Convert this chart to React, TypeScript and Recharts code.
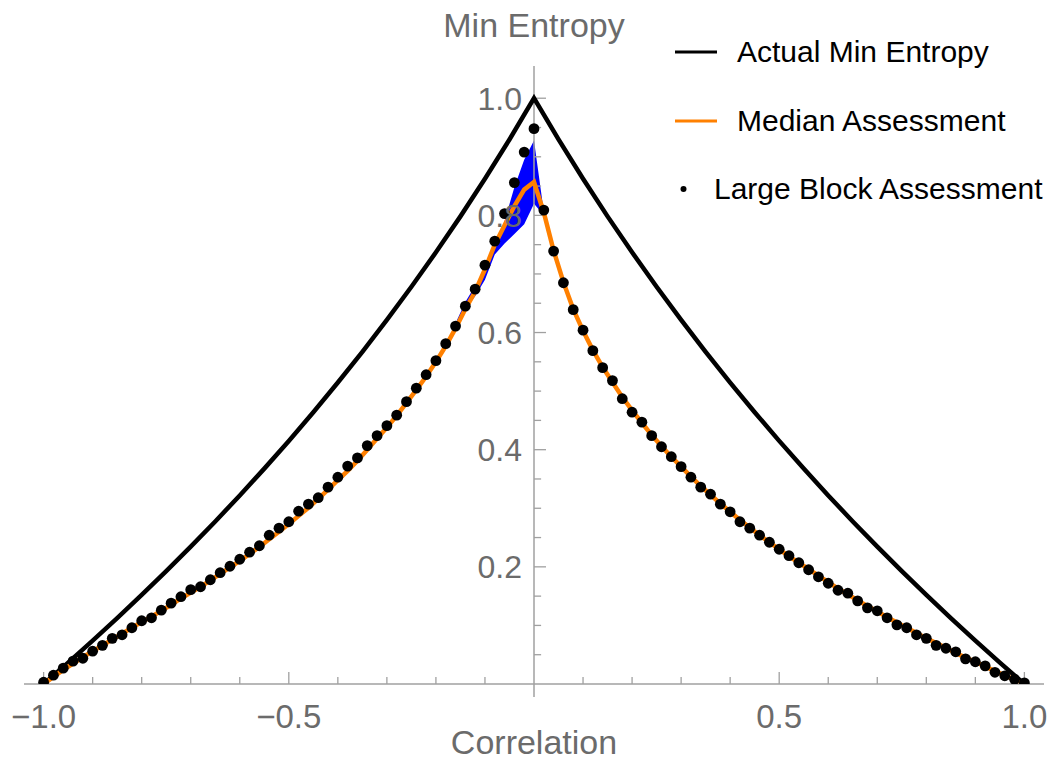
import React from 'react';
import {
  ComposedChart,
  Line,
  Area,
  Scatter,
  XAxis,
  YAxis,
  ReferenceLine,
  Legend,
} from 'recharts';

// correlation grid of the assessments (step 0.02)
const corrGrid = [
  -1.0, -0.98, -0.96, -0.94, -0.92, -0.9, -0.88, -0.86, -0.84, -0.82,
  -0.8, -0.78, -0.76, -0.74, -0.72, -0.7, -0.68, -0.66, -0.64, -0.62,
  -0.6, -0.58, -0.56, -0.54, -0.52, -0.5, -0.48, -0.46, -0.44, -0.42,
  -0.4, -0.38, -0.36, -0.34, -0.32, -0.3, -0.28, -0.26, -0.24, -0.22,
  -0.2, -0.18, -0.16, -0.14, -0.12, -0.1, -0.08, -0.06, -0.04, -0.02,
  0,
  0.02, 0.04, 0.06, 0.08, 0.1, 0.12, 0.14, 0.16, 0.18, 0.2,
  0.22, 0.24, 0.26, 0.28, 0.3, 0.32, 0.34, 0.36, 0.38, 0.4,
  0.42, 0.44, 0.46, 0.48, 0.5, 0.52, 0.54, 0.56, 0.58, 0.6,
  0.62, 0.64, 0.66, 0.68, 0.7, 0.72, 0.74, 0.76, 0.78, 0.8,
  0.82, 0.84, 0.86, 0.88, 0.9, 0.92, 0.94, 0.96, 0.98, 1.0,
];

// Large Block Assessment (dots)
const blockValues = [
  0.003, 0.015, 0.027, 0.039, 0.044, 0.056, 0.066, 0.078, 0.084, 0.096,
  0.108, 0.113, 0.126, 0.138, 0.149, 0.161, 0.166, 0.178, 0.19, 0.201,
  0.213, 0.225, 0.236, 0.254, 0.266, 0.277, 0.295, 0.307, 0.318, 0.336,
  0.353, 0.372, 0.386, 0.407, 0.424, 0.441, 0.459, 0.482, 0.505, 0.528,
  0.552, 0.581, 0.611, 0.645, 0.674, 0.715, 0.756, 0.803, 0.856, 0.908,
  0.948,
  0.809, 0.739, 0.685, 0.639, 0.604, 0.569, 0.54, 0.518, 0.487, 0.464,
  0.447, 0.424, 0.405, 0.388, 0.371, 0.353, 0.336, 0.324, 0.307, 0.294,
  0.277, 0.266, 0.254, 0.242, 0.23, 0.219, 0.207, 0.195, 0.183, 0.172,
  0.16, 0.155, 0.142, 0.13, 0.125, 0.113, 0.101, 0.096, 0.084, 0.078,
  0.066, 0.061, 0.055, 0.043, 0.038, 0.031, 0.02, 0.014, 0.008, 0.002,
];

// Median Assessment (orange line)
const medianValues = [
  0.0, 0.012, 0.024, 0.035, 0.046, 0.056, 0.066, 0.076, 0.086, 0.096,
  0.106, 0.115, 0.125, 0.135, 0.146, 0.156, 0.166, 0.177, 0.188, 0.199,
  0.21, 0.222, 0.234, 0.247, 0.26, 0.273, 0.287, 0.301, 0.316, 0.332,
  0.348, 0.364, 0.381, 0.4, 0.419, 0.438, 0.458, 0.48, 0.502, 0.525,
  0.55, 0.577, 0.607, 0.64, 0.67, 0.708, 0.75, 0.783, 0.816, 0.844,
  0.857,
  0.805, 0.74, 0.686, 0.64, 0.603, 0.57, 0.541, 0.515, 0.49, 0.467,
  0.446, 0.425, 0.406, 0.388, 0.371, 0.354, 0.338, 0.323, 0.308, 0.294,
  0.28, 0.267, 0.254, 0.242, 0.23, 0.218, 0.207, 0.196, 0.185, 0.174,
  0.163, 0.153, 0.143, 0.133, 0.124, 0.114, 0.105, 0.096, 0.087, 0.078,
  0.07, 0.062, 0.053, 0.045, 0.038, 0.03, 0.022, 0.015, 0.007, 0.0,
];

// Actual Min Entropy (black line)
const actualCorr = [
  -1.0, -0.95, -0.9, -0.85, -0.8, -0.75, -0.7, -0.65, -0.6, -0.55,
  -0.5, -0.45, -0.4, -0.35, -0.3, -0.25, -0.2, -0.15, -0.1, -0.05,
  0,
  0.05, 0.1, 0.15, 0.2, 0.25, 0.3, 0.35, 0.4, 0.45, 0.5,
  0.55, 0.6, 0.65, 0.7, 0.75, 0.8, 0.85, 0.9, 0.95, 1.0,
];
const actualValues = [
  0.0, 0.0365, 0.074, 0.1125, 0.152, 0.1926, 0.2345, 0.2775, 0.3219, 0.3677,
  0.415, 0.464, 0.5146, 0.567, 0.6215, 0.6781, 0.737, 0.7983, 0.8625, 0.9296,
  1.0,
  0.9296, 0.8625, 0.7983, 0.737, 0.6781, 0.6215, 0.567, 0.5146, 0.464, 0.415,
  0.3677, 0.3219, 0.2775, 0.2345, 0.1926, 0.152, 0.1125, 0.074, 0.0365, 0.0,
];

// blue spread band near zero correlation
const bandCorr = [-0.16, -0.14, -0.12, -0.1, -0.08, -0.06, -0.04, -0.02, 0, 0.02];
const bandLow = [0.611, 0.64, 0.662, 0.69, 0.733, 0.752, 0.768, 0.785, 0.82, 0.8];
const bandHigh = [0.616, 0.652, 0.68, 0.702, 0.748, 0.79, 0.848, 0.895, 0.928, 0.806];

const xLabelTicks = [-1, -0.5, 0.5, 1];
const xMinorTicks = [-0.9, -0.8, -0.7, -0.6, -0.4, -0.3, -0.2, -0.1, 0.1, 0.2, 0.3, 0.4, 0.6, 0.7, 0.8, 0.9];
const yMajorTicks = [0.2, 0.4, 0.6, 0.8, 1.0];
const yMinorTicks = [0.05, 0.1, 0.15, 0.25, 0.3, 0.35, 0.45, 0.5, 0.55, 0.65, 0.7, 0.75, 0.85, 0.9, 0.95];

const legendNames = ['Actual Min Entropy', 'Median Assessment', 'Large Block Assessment'];
const legendColors = ['#000000', '#ff8000', '#000000'];
const legendKinds = ['line', 'line', 'dot'];

const pointRows = corrGrid.map((c, i) => ({ c, block: blockValues[i], median: medianValues[i] }));
const actualRows = actualCorr.map((c, i) => ({ c, actual: actualValues[i] }));
const bandRows = bandCorr.map((c, i) => ({ c, band: [bandLow[i], bandHigh[i]] }));

const FONT = '"Liberation Sans", Arial, Helvetica, sans-serif';
const AXIS_GRAY = '#a0a0a0';
const TEXT_GRAY = '#6b6b6b';

const fmt = (v: number) => (v < 0 ? '\u2212' : '') + Math.abs(v).toFixed(1);

const LegendBox = () => (
  <div style={{ fontFamily: FONT, fontSize: 30, color: '#000' }}>
    {legendNames.map((name, i) => (
      <div key={name} style={{ display: 'flex', alignItems: 'center', height: 68.5 }}>
        {legendKinds[i] === 'line' ? (
          <svg width={62} height={10}>
            <line x1={0} x2={42} y1={5} y2={5} stroke={legendColors[i]} strokeWidth={3} />
          </svg>
        ) : (
          <svg width={39} height={10}>
            <circle cx={8.5} cy={5} r={3} fill={legendColors[i]} />
          </svg>
        )}
        <span>{name}</span>
      </div>
    ))}
  </div>
);

const Dot = (props: any) => <circle cx={props.cx} cy={props.cy} r={5.4} fill="#000" />;

export default function App() {
  return (
    <div style={{ position: 'absolute', left: 0, top: 0, background: '#fff' }}>
      <ComposedChart width={1051} height={761} margin={{ top: 66, right: 7, bottom: 32, left: 24 }}>
        <XAxis
          type="number"
          dataKey="c"
          domain={[-1.04, 1.04]}
          ticks={xLabelTicks}
          tickFormatter={fmt}
          allowDataOverflow
          axisLine={{ stroke: AXIS_GRAY, strokeWidth: 1.5 }}
          tickLine={false}
          tickSize={0}
          tickMargin={21}
          tick={{ fill: TEXT_GRAY, fontSize: 33, fontFamily: FONT }}
          height={45}
          label={{ value: 'Correlation', position: 'bottom', offset: 1, fill: TEXT_GRAY, fontSize: 34, fontFamily: FONT }}
        />
        <YAxis type="number" domain={[0, 1.055]} allowDataOverflow hide />

        <ReferenceLine
          segment={[{ x: 0, y: -0.022 }, { x: 0, y: 1.055 }]}
          stroke={AXIS_GRAY}
          strokeWidth={1.5}
          ifOverflow="visible"
          label={{ value: 'Min Entropy', position: 'top', offset: 29, fill: TEXT_GRAY, fontSize: 34, fontFamily: FONT }}
        />
        {yMajorTicks.map((v) => (
          <ReferenceLine
            key={'ym' + v}
            segment={[{ x: 0, y: v }, { x: 0.0245, y: v }]}
            stroke={AXIS_GRAY}
            strokeWidth={1.3}
            label={{ value: v.toFixed(1), position: 'left', offset: 12, fill: TEXT_GRAY, fontSize: 32, fontFamily: FONT }}
          />
        ))}
        {yMinorTicks.map((v) => (
          <ReferenceLine key={'yn' + v} segment={[{ x: 0, y: v }, { x: 0.0145, y: v }]} stroke={AXIS_GRAY} strokeWidth={1.3} />
        ))}
        {xLabelTicks.map((c) => (
          <ReferenceLine key={'xm' + c} segment={[{ x: c, y: 0 }, { x: c, y: 0.0205 }]} stroke={AXIS_GRAY} strokeWidth={1.3} />
        ))}
        {xMinorTicks.map((c) => (
          <ReferenceLine key={'xn' + c} segment={[{ x: c, y: 0 }, { x: c, y: 0.012 }]} stroke={AXIS_GRAY} strokeWidth={1.3} />
        ))}

        <Area
          data={bandRows}
          dataKey="band"
          type="linear"
          stroke="none"
          fill="#0000ff"
          fillOpacity={1}
          isAnimationActive={false}
        />
        <Line
          data={actualRows}
          dataKey="actual"
          type="linear"
          stroke="#000"
          strokeWidth={4.5}
          dot={false}
          isAnimationActive={false}
        />
        <Line
          data={pointRows}
          dataKey="median"
          type="linear"
          stroke="#ff8000"
          strokeWidth={4.5}
          dot={false}
          isAnimationActive={false}
        />
        <Scatter data={pointRows} dataKey="block" shape={Dot} isAnimationActive={false} />

        <Legend
          layout="vertical"
          align="center"
          verticalAlign="middle"
          wrapperStyle={{ top: 18, left: 675, width: 376 }}
          content={() => <LegendBox />}
        />
      </ComposedChart>
    </div>
  );
}
